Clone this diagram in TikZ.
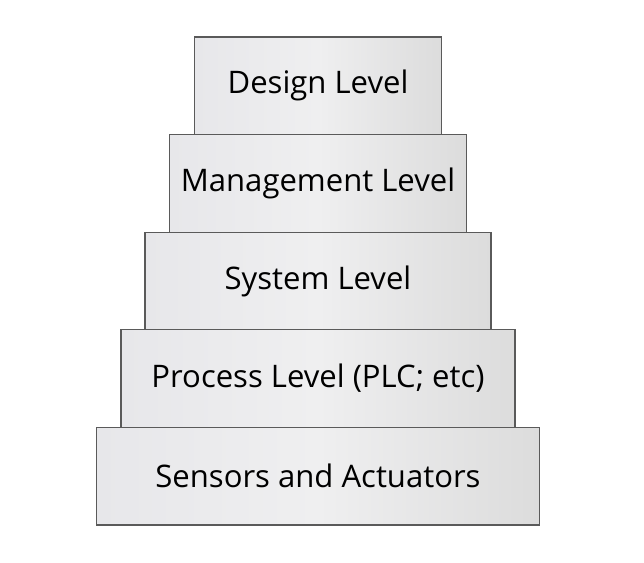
\documentclass[tikz,border=0pt]{standalone}
\usepackage{fontspec}
\setmainfont{Open Sans}
\usetikzlibrary{positioning}
\definecolor{edgegray}{HTML}{5A5A5A}
\definecolor{leftgray}{HTML}{E7E7EA}
\definecolor{midgray}{HTML}{EFEFF0}
\definecolor{rightgray}{HTML}{DCDCDC}
\tikzset{level/.style={rectangle, draw=edgegray, line width=0.8pt, outer sep=0pt, left color=leftgray, right color=rightgray, middle color=midgray, text centered, minimum height=73.2pt, inner sep=0pt, font=\fontsize{23.3}{25}\selectfont}}

\begin{document}
\begin{tikzpicture}[node distance=0pt, every node/.style={align=center}]
				\useasboundingbox (0,0) rectangle (483pt,421.5pt);
				% Levels, from the bottom up
				\node (sensors) [level, minimum width=332.25pt] at (238.5pt,64.35pt) {Sensors and Actuators};
				\node (process) [level, minimum width=295.5pt, above=of sensors] {Process Level (PLC; etc)};
				\node (system) [level, minimum width=259.5pt, above=of process] {System Level};
				\node (management) [level, minimum width=222.75pt, above=of system] {Management Level};
				\node (design) [level, minimum width=185.25pt, above=of management] {Design Level};
			\end{tikzpicture}
\end{document}
